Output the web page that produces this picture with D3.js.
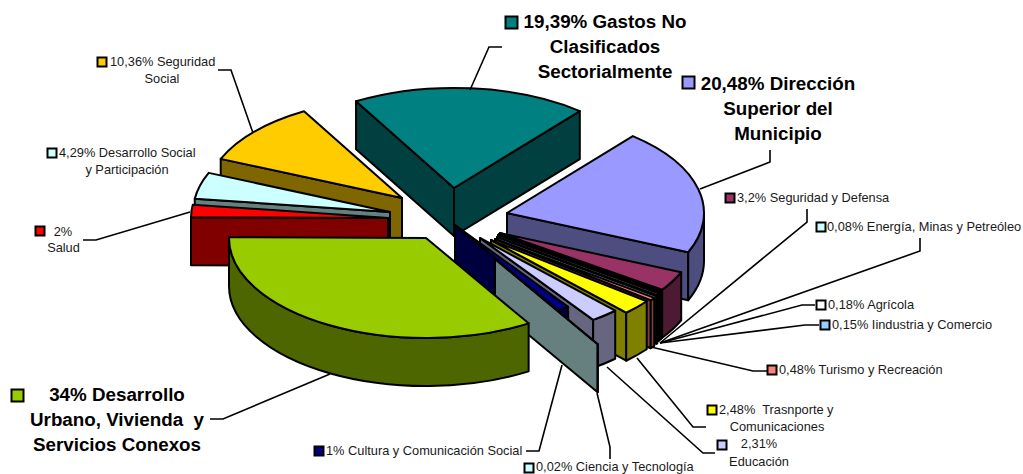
<!DOCTYPE html>
<html><head><meta charset="utf-8">
<script src="https://cdn.jsdelivr.net/npm/d3@7"></script>
<style>
html,body{margin:0;padding:0;background:#fff;overflow:hidden}
svg{display:block}
text{font-family:"Liberation Sans",Arial,sans-serif;fill:#000;white-space:pre}
</style></head><body>
<svg id="c" width="1023" height="474"></svg>
<script>
// ---- data (clockwise, starting at the largest slice)
const categories = ["Desarrollo Urbano, Vivienda y Servicios Conexos","Salud","Desarrollo Social y Participación","Seguridad Social","Gastos No Clasificados Sectorialmente","Dirección Superior del Municipio","Seguridad y Defensa","Energía, Minas y Petreóleo","Agrícola","Industria y Comercio","Turismo y Recreación","Trasnporte y Comunicaciones","Educación","Cultura y Comunicación Social","Ciencia y Tecnología"];
const values = [34,2,4.29,10.36,19.39,20.48,3.2,0.08,0.18,0.15,0.48,2.48,2.31,1,0.02];
const colors = ["#99CC00","#FF0000","#CCFFFF","#FFCC00","#008080","#9999FF","#993366","#CCFFFF","#FFFFFF","#99CCFF","#FF8080","#FFFF00","#CCCCFF","#000080","#CCFFFF"];
// ---- explosion of each slice from the pie centre, in px
const explodeX = [-24,-62,-60,-48,4,57,50,49,48,47,45,41,30,5,45];
const explodeY = [25,5,-1,-15,-25,0,20,21,22,24,26,27,25,12,46];
const paintOrder = [4,5,6,7,8,9,10,11,12,13,14,3,2,1,0];
// ---- labels: [text, anchor x, baseline y]
const smallLabels = [
 ["10,36% Seguridad",110,66,"start"],["Social",162,83,"middle"],
 ["4,29% Desarrollo Social",59,157,"start"],["y Participación",127,174,"middle"],
 ["2%",63,235.5,"middle"],["Salud",63.5,252,"middle"],
 ["3,2% Seguridad y Defensa",737,202,"start"],
 ["0,08% Energía, Minas y Petreóleo",827,231,"start"],
 ["0,18% Agrícola",828,309,"start"],
 ["0,15% Iindustria y Comercio",832,329,"start"],
 ["0,48% Turismo y Recreación",779,374,"start"],
 ["2,48%  Trasnporte y",719,414,"start"],["Comunicaciones",777,431,"middle"],
 ["2,31%",759,448,"middle"],["Educación",759,466,"middle"],
 ["1% Cultura y Comunicación Social",326,455,"start"],
 ["0,02% Ciencia y Tecnología",536,471,"start"]];
const boldLabels = [
 ["19,39% Gastos No",605,28],["Clasificados",605,53],["Sectorialmente",605,78],
 ["20,48% Dirección",778,90],["Superior del",778,115],["Municipio",778,140],
 ["34% Desarrollo",117,401],["Urbano, Vivienda  y",117,426],["Servicios Conexos",117,451]];
// marker per label: [category index, x, y, size]
const markers = [[3,97,57,9],[2,47,148,9],[1,35,226,9],[6,725,193,9],[7,816,222,9],[8,816,300,9],[9,820,320,9],[10,767,365,9],[11,707,405,9],[12,717,440,9],[13,314,446,9],[14,524,463,9],[4,505,16,12],[5,682,76,12],[0,11,389,12]];
const leaders = [
 [[218,70],[231,70],[253,133]],
 [[83,240],[96,240],[190,212]],
 [[470,90],[489,47],[502,47]],
 [[700,189],[770,162],[770,150]],
 [[660,343],[807,222],[807,209]],
 [[660,343],[920,251],[920,238]],
 [[660,343],[802,305],[815,305]],
 [[660,343],[805,325],[819,325]],
 [[651,347],[753,371],[767,371]],
 [[637,358],[693,427],[706,427]],
 [[607,367],[703,453],[715,453]],
 [[597,393],[610,447],[610,459]],
 [[562,365],[539,451],[526,451]],
 [[330,374],[223,419],[210,419]]];

// ---- geometry
const cx=450, cy=213, rx=197, ry=100, depth=48;
const svg=d3.select("#c");
const rad=d=>d*Math.PI/180;
const pie=d3.pie().sort(null).startAngle(rad(58.6+90)).endAngle(rad(58.6+90)+2*Math.PI);
const arcs=pie(values);
const shade=c=>{const r=d3.rgb(c);return d3.rgb(r.r/2,r.g/2,r.b/2).formatHex();};
const g=svg.append("g").attr("stroke","#000").attr("stroke-width",2).attr("stroke-linejoin","round");

paintOrder.forEach(i=>{
  const a=arcs[i], t0=a.startAngle-Math.PI/2, t1=a.endAngle-Math.PI/2;
  const ax=cx+explodeX[i], ay=cy+explodeY[i];
  const P=t=>[ax+rx*Math.cos(t), ay+ry*Math.sin(t)];
  const wall=shade(colors[i]);
  const radial=t=>{const p=P(t);
    g.append("path").attr("fill",wall)
     .attr("d",`M${ax},${ay}L${p}L${p[0]},${p[1]+depth}L${ax},${ay+depth}Z`);};
  if(-Math.cos(t0)>0) radial(t0);
  if(Math.cos(t1)>0) radial(t1);
  // rim: only the lower half of the ellipse faces the viewer
  [[0,Math.PI],[2*Math.PI,3*Math.PI]].forEach(([lo,hi])=>{
    const u0=Math.max(t0,lo), u1=Math.min(t1,hi);
    if(u1<=u0) return;
    const p=P(u0), q=P(u1);
    g.append("path").attr("fill",wall)
     .attr("d",`M${p}A${rx},${ry} 0 0 1 ${q}L${q[0]},${q[1]+depth}A${rx},${ry} 0 0 0 ${p[0]},${p[1]+depth}Z`);
  });
  const s=P(t0), e=P(t1), large=(t1-t0)>Math.PI?1:0;
  g.append("path").attr("fill",colors[i])
   .attr("d",`M${ax},${ay}L${s}A${rx},${ry} 0 ${large} 1 ${e}Z`);
});

// ---- leaders
const line=d3.line();
svg.append("g").selectAll("path").data(leaders).join("path")
  .attr("d",line).attr("fill","none").attr("stroke","#000").attr("stroke-width",1.6);

// ---- markers
svg.append("g").selectAll("rect").data(markers).join("rect")
  .attr("x",d=>d[1]+.5).attr("y",d=>d[2]+.5).attr("width",d=>d[3]).attr("height",d=>d[3])
  .attr("fill",d=>colors[d[0]]).attr("stroke","#000").attr("stroke-width",2);

// ---- labels
svg.append("g").selectAll("text").data(smallLabels).join("text")
  .attr("x",d=>d[1]).attr("y",d=>d[2]).attr("text-anchor",d=>d[3])
  .style("font-size","12.8px").style("fill","#1a1a1a").text(d=>d[0]);
svg.append("g").selectAll("text").data(boldLabels).join("text")
  .attr("x",d=>d[1]).attr("y",d=>d[2]).attr("text-anchor","middle")
  .style("font-size","18.8px").style("font-weight","bold").text(d=>d[0]);
</script></body></html>
